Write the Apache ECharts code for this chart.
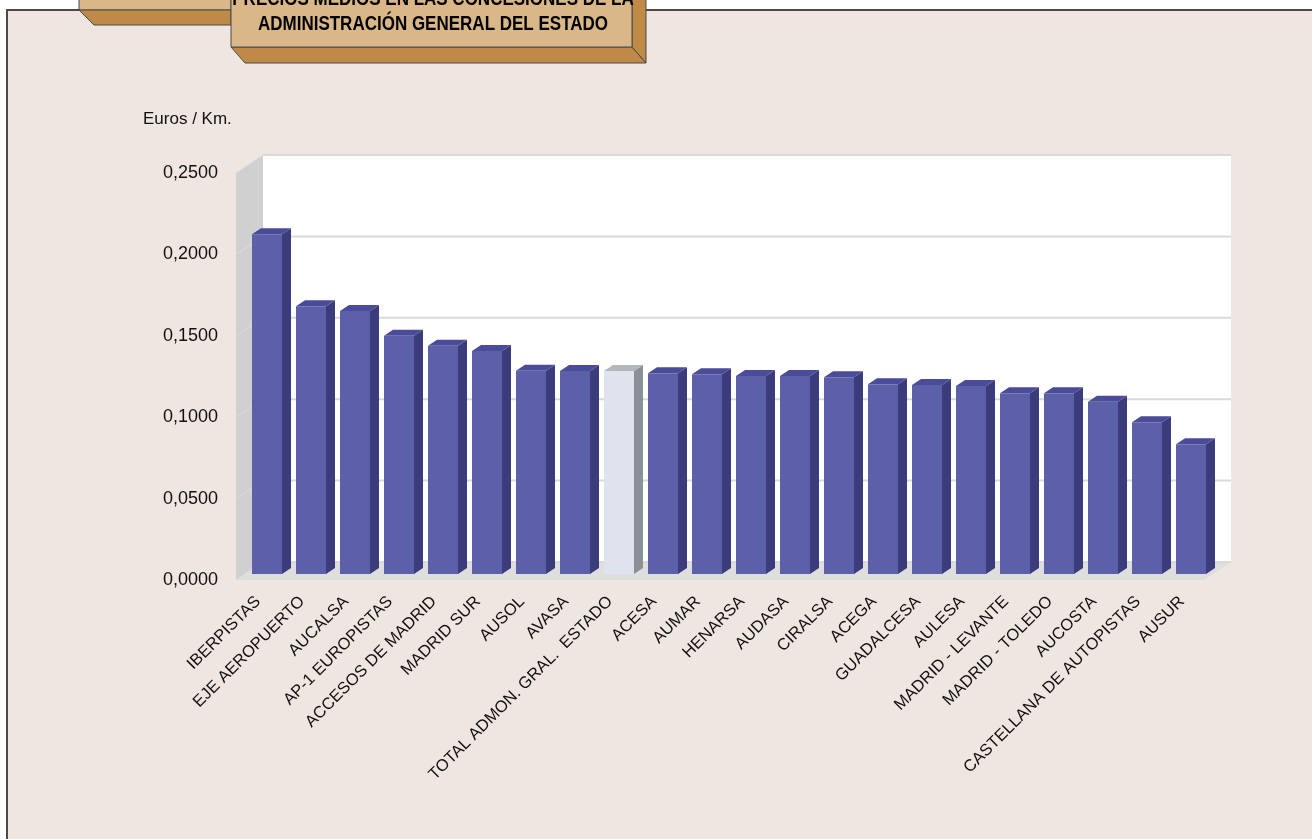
<!DOCTYPE html>
<html>
<head>
<meta charset="utf-8">
<script src="https://cdn.jsdelivr.net/npm/echarts@6/dist/echarts.min.js"></script>
<style>
  html, body { margin: 0; padding: 0; background: #fff; }
  #chart { width: 1312px; height: 839px; }
</style>
</head>
<body>
<div id="chart"></div>
<script>
"use strict";

// ---- data ----
const categories = [
  "IBERPISTAS", "EJE AEROPUERTO", "AUCALSA", "AP-1 EUROPISTAS", "ACCESOS DE MADRID",
  "MADRID SUR", "AUSOL", "AVASA", "TOTAL ADMON. GRAL.  ESTADO", "ACESA", "AUMAR",
  "HENARSA", "AUDASA", "CIRALSA", "ACEGA", "GUADALCESA", "AULESA",
  "MADRID - LEVANTE", "MADRID - TOLEDO", "AUCOSTA", "CASTELLANA DE AUTOPISTAS", "AUSUR"
];
const pricePerKm = [
  0.2087, 0.1644, 0.1615, 0.1464, 0.1402,
  0.1370, 0.1249, 0.1247, 0.1247, 0.1233, 0.1227,
  0.1216, 0.1216, 0.1208, 0.1165, 0.1161, 0.1155,
  0.1110, 0.1110, 0.1058, 0.0932, 0.0797
];
const totalCategory = "TOTAL ADMON. GRAL.  ESTADO";
const yTicks = [0, 0.05, 0.1, 0.15, 0.2, 0.25];
const unitLabel = "Euros / Km.";
const titleLines = ["PRECIOS MEDIOS EN LAS CONCESIONES DE LA", "ADMINISTRACIÓN GENERAL DEL ESTADO"];

// ---- look ----
const FONT = "'Liberation Sans', Arial, Helvetica, sans-serif";
const TITLE_FONT = "'Liberation Sans', Arial, sans-serif";
const PAGE_BG = "#f0e6e1", FRAME = "#4a4a4a";
const TAN = "#d9b788", TAN_DARK = "#bf8a47";
const BAR = { front: "#5c60a8", side: "#3c3b7b", top: "#4a4b99" };
const BAR_TOTAL = { front: "#dee3ee", side: "#8c9096", top: "#b3b6bb" };
const BAR_W = 30;
// depth of the pseudo-3D floor (front plane -> back wall)
const DX = 27, DY = -18;
// front plane of the plot
const PLOT = { left: 236, right: 1204, top: 173, bottom: 580 };

function renderBar(params, api) {
  const i = api.value(0), v = api.value(1);
  const base = api.coord([i, 0]), head = api.coord([i, v]);
  const dx = DX / 3, dy = DY / 3;           // bars sit in the middle third of the depth
  const xl = base[0] - BAR_W / 2 + dx, xr = xl + BAR_W;
  const yb = base[1] + dy, yt = head[1] + dy;
  const c = categories[i] === totalCategory ? BAR_TOTAL : BAR;
  return {
    type: "group",
    children: [
      { type: "polygon", shape: { points: [[xr, yt], [xr + dx, yt + dy], [xr + dx, yb + dy], [xr, yb]] },
        style: { fill: c.side } },
      { type: "polygon", shape: { points: [[xl, yt], [xl + dx, yt + dy], [xr + dx, yt + dy], [xr, yt]] },
        style: { fill: c.top } },
      { type: "rect", shape: { x: xl, y: yt, width: BAR_W, height: yb - yt }, style: { fill: c.front } },
    ],
  };
}

const chart = echarts.init(document.getElementById("chart"), null, { renderer: "canvas" });

chart.setOption({
  backgroundColor: "#ffffff",
  animation: false,
  textStyle: { fontFamily: FONT },
  grid: { left: PLOT.left, right: 1312 - PLOT.right, top: PLOT.top, bottom: 839 - PLOT.bottom, containLabel: false },
  xAxis: {
    type: "category",
    data: categories,
    axisLine: { show: false },
    axisTick: { show: false },
    axisLabel: { interval: 0, rotate: 45, margin: 19, color: "#111", fontSize: 16.5, fontFamily: FONT },
  },
  yAxis: {
    type: "value",
    min: 0, max: 0.25, interval: 0.05,
    axisLine: { show: false },
    axisTick: { show: false },
    splitLine: { show: false },
    axisLabel: {
      margin: 18, color: "#111", fontSize: 18, fontFamily: FONT,
      formatter: (v) => v.toFixed(4).replace(".", ","),
    },
  },
  series: [{
    type: "custom",
    renderItem: renderBar,
    encode: { x: 0, y: 1 },
    data: pricePerKm.map((v, i) => [i, v]),
    z: 5,
  }],
});

// ---- decoration: frame, walls, gridlines on the back wall, title tab ----
const yPix = (t) => chart.convertToPixel({ yAxisIndex: 0 }, t);
const L = PLOT.left, R = PLOT.right, T = PLOT.top, B = PLOT.bottom;

const deco = [];
// page frame
deco.push({ type: "rect", shape: { x: 7, y: 10, width: 1320, height: 840 }, z: -20,
  style: { fill: PAGE_BG } });
deco.push({ type: "polyline", shape: { points: [[7, 845], [7, 10], [1320, 10]] }, z: -19,
  style: { stroke: FRAME, lineWidth: 2, fill: null } });

// back wall, side wall, floor
deco.push({ type: "rect", shape: { x: L + DX, y: T + DY, width: R - L, height: B - T }, z: -10,
  style: { fill: "#ffffff" } });
deco.push({ type: "polygon", shape: { points: [[L, B], [L, T], [L + DX, T + DY], [L + DX, B + DY]] }, z: -10,
  style: { fill: "#d0d0d0" } });
deco.push({ type: "polygon", shape: { points: [[L, B], [L + DX, B + DY], [R + DX, B + DY], [R, B]] }, z: -10,
  style: { fill: "#dedede" } });
for (const t of yTicks) {
  const y = yPix(t);
  deco.push({ type: "line", shape: { x1: L + DX, y1: y + DY, x2: R + DX, y2: y + DY }, z: -9,
    style: { stroke: "#d9d9d9", lineWidth: 2 } });
  deco.push({ type: "line", shape: { x1: L, y1: y, x2: L + DX, y2: y + DY }, z: -9,
    style: { stroke: "#dcdcdc", lineWidth: 1 } });
}

// unit label
deco.push({ type: "text", x: 143, y: 119, z: 1,
  style: { text: unitLabel, fill: "#111", font: "17px " + FONT, verticalAlign: "middle" } });

// title tab (back part, left)
deco.push({ type: "polygon", shape: { points: [[79, -5], [231, -5], [231, 10], [79, 10]] }, z: 10,
  style: { fill: TAN, stroke: FRAME, lineWidth: 1 } });
deco.push({ type: "polygon", shape: { points: [[79, 10], [231, 10], [231, 25], [94, 25]] }, z: 10,
  style: { fill: TAN_DARK, stroke: FRAME, lineWidth: 1 } });
// title box (front)
deco.push({ type: "polygon", shape: { points: [[231, 47], [632, 47], [646, 63], [245, 63]] }, z: 11,
  style: { fill: TAN_DARK, stroke: FRAME, lineWidth: 1 } });
deco.push({ type: "polygon", shape: { points: [[632, -20], [646, -6], [646, 63], [632, 47]] }, z: 11,
  style: { fill: TAN_DARK, stroke: FRAME, lineWidth: 1 } });
deco.push({ type: "rect", shape: { x: 231, y: -20, width: 401, height: 67 }, z: 12,
  style: { fill: TAN, stroke: FRAME, lineWidth: 1 } });
// condensed bold title: squeeze a regular bold face horizontally
titleLines.forEach((line, k) => {
  deco.push({ type: "text", x: 433, y: -1 + 25 * k, scaleX: 0.85, z: 13,
    style: { text: line, fill: "#000", font: "bold 20px " + TITLE_FONT, align: "center", verticalAlign: "middle" } });
});

chart.setOption({ graphic: { elements: deco } });
</script>
</body>
</html>
